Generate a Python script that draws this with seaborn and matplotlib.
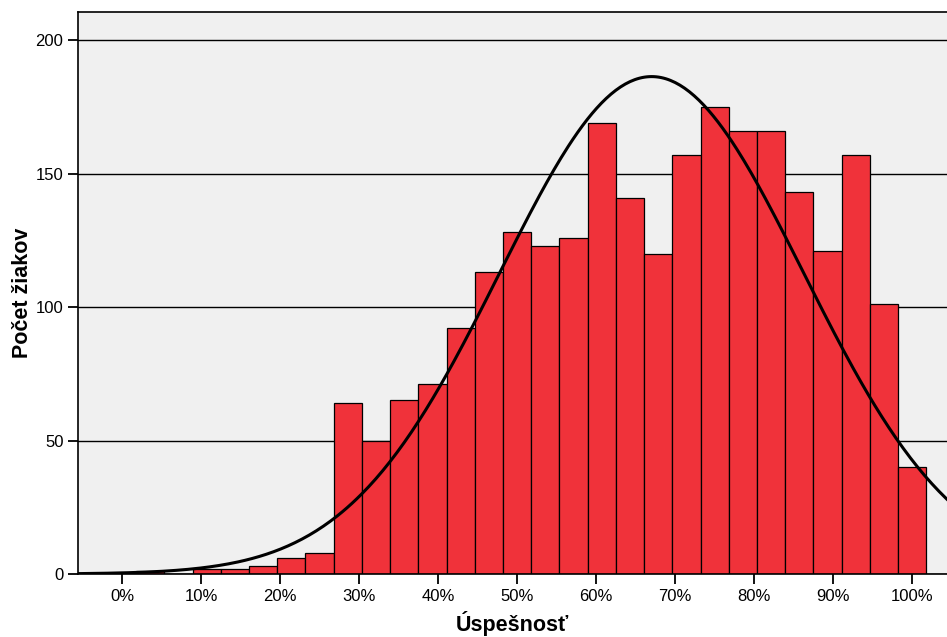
import numpy as np
import pandas as pd
import matplotlib
matplotlib.use("Agg")
import matplotlib.pyplot as plt
import seaborn as sns

# score points (out of 28) and number of pupils per score
points = [0, 1, 2, 3, 4, 5, 6, 7, 8, 9, 10, 11, 12, 13, 14,
          15, 16, 17, 18, 19, 20, 21, 22, 23, 24, 25, 26, 27, 28]
counts = [0, 1, 0, 2, 2, 3, 6, 8, 64, 50, 65, 71, 92, 113, 128,
          123, 126, 169, 141, 120, 157, 175, 166, 166, 143, 121, 157, 101, 40]
max_points = 28
x_ticks = [0, 10, 20, 30, 40, 50, 60, 70, 80, 90, 100]
y_ticks = [0, 50, 100, 150, 200]

df = pd.DataFrame({"pct": np.array(points) / max_points * 100, "n": counts})
bw = 100 / max_points

sns.set_style("ticks")
plt.rcParams["font.family"] = ["Liberation Sans", "DejaVu Sans"]

fig = plt.figure(figsize=(9.47, 6.37), dpi=100)
ax = fig.add_axes([0.0824, 0.0989, 0.9176, 0.8823])
ax.set_facecolor("#F0F0F0")

sns.histplot(data=df, x="pct", weights="n", binwidth=bw,
             binrange=(-bw / 2, 100 + bw / 2), color="#F0323A", alpha=1,
             edgecolor="black", linewidth=0.9, ax=ax, zorder=2)

# normal curve (SPSS style) from the mean and sd of the data
N = df["n"].sum()
mean = np.average(df["pct"], weights=df["n"])
sd = np.sqrt(np.average((df["pct"] - mean) ** 2, weights=df["n"]) * N / (N - 1))
xs = np.linspace(-10, 110, 400)
ys = N * bw * np.exp(-0.5 * ((xs - mean) / sd) ** 2) / (sd * np.sqrt(2 * np.pi))
sns.lineplot(x=xs, y=ys, color="black", linewidth=2.2, ax=ax, zorder=3)

ax.set_xlim(-5.57, 104.4)
ax.set_ylim(0, 210.5)
ax.set_xticks(x_ticks)
ax.set_xticklabels([f"{t}%" for t in x_ticks])
ax.set_yticks(y_ticks)
ax.yaxis.grid(True, color="black", linewidth=1.0)
ax.set_axisbelow(True)

ax.tick_params(axis="both", labelsize=12, colors="black", width=1.3, length=7, direction="out")
for side in ["left", "bottom", "top"]:
    ax.spines[side].set_color("black")
    ax.spines[side].set_linewidth(1.2)
ax.spines["right"].set_visible(False)

ax.set_xlabel("Úspešnosť", fontsize=15.5, fontweight="bold", color="black", labelpad=5)
ax.set_ylabel("Počet žiakov", fontsize=15.5, fontweight="bold", color="black", labelpad=2)

fig.savefig("out.png", dpi=100)
